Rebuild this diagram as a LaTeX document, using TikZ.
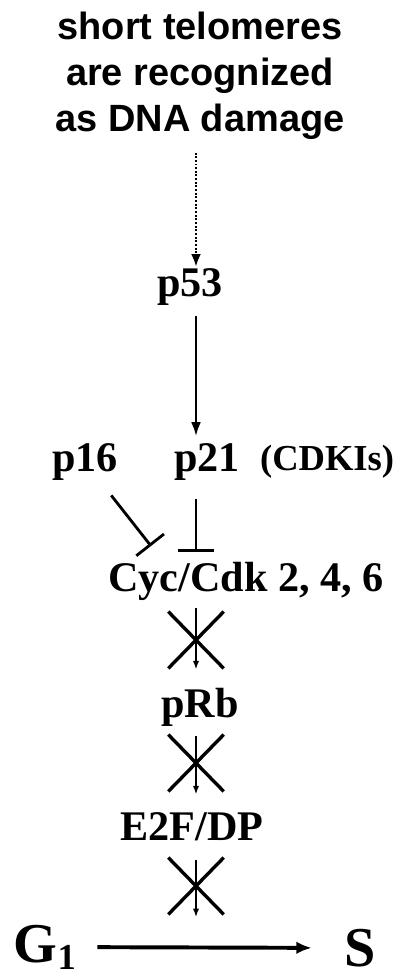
\documentclass[tikz,border=0pt]{standalone}
\usepackage{fontspec}
\setmainfont{Liberation Serif}
\newfontfamily\arialfont{Liberation Sans}
\usetikzlibrary{positioning,arrows.meta,shapes.misc}

\tikzset{
  titlebox/.style={align=center, inner sep=1pt,
    font=\arialfont\bfseries\fontsize{27}{32.6}\selectfont},
  lbl/.style={inner sep=1pt, font=\bfseries\fontsize{30}{32}\selectfont},
  small lbl/.style={inner sep=1pt, font=\bfseries\fontsize{26}{28}\selectfont},
  big lbl/.style={inner sep=1pt, font=\bfseries\fontsize{40}{42}\selectfont},
  dotarrow/.style={line width=2pt, dash pattern=on 1.4pt off 1.2pt,
    -{Latex[length=9pt,width=7pt]}},
  act/.style={line width=1.7pt, -{Latex[length=10pt,width=7pt]}},
  inhib/.style={line width=2pt, -{Bar[width=25pt,line width=2pt]}},
  thin act/.style={line width=1pt, -{Latex[length=6pt,width=4.5pt]}},
  crossx/.style={draw, cross out, line width=2.4pt, inner sep=0pt,
    minimum width=37pt, minimum height=38pt},
  phase/.style={line width=2.8pt, -{Latex[length=11pt,width=9pt]}}
}

\begin{document}
\begin{tikzpicture}[x=0.025cm,y=-0.025cm]
	\useasboundingbox (0,0) rectangle (405,977);
	%Nodes
	\node[titlebox] (dmg) at (200,76) {short telomeres\\are recognized\\as DNA damage};
	\node[lbl] (p53) at (190,287) {p53};
	\node[lbl] (p16) at (85,462) {p16};
	\node[lbl] (p21) at (207,462) {p21};
	\node[small lbl, right=12pt of p21] (cdki) {(CDKIs)};
	\node[lbl] (cyc) at (246,581) {Cyc/Cdk 2, 4, 6};
	\node[lbl] (prb) at (200,707) {pRb};
	\node[lbl] (e2f) at (192,827) {E2F/DP};
	\node[big lbl] (g1) at (45,947) {G\raisebox{-5pt}{\fontsize{26}{26}\selectfont 1}};
	\node[big lbl] (s) at (360,948) {S};
	%Blocks on the axis
	\node[crossx] (x1) at (196,640) {};
	\node[crossx] (x2) at (196,763) {};
	\node[crossx] (x3) at (196,886) {};
	\coordinate (ax) at (196,0);
	\coordinate (hit16) at (151,546);
	\coordinate (gate) at (196,917);
	%Activation
	\draw[dotarrow, shorten <=8pt] (dmg.south -| ax) -- (p53.north -| ax);
	\draw[act, shorten <=6pt, shorten >=4pt] (p53.south -| ax) -- (p21.north -| ax);
	%Inhibition
	\draw[inhib, shorten <=12pt] (p16) -- (hit16);
	\draw[inhib, shorten <=12pt, shorten >=6pt] (p21.south -| ax) -- (cyc.north -| ax);
	%Blocked steps
	\draw[thin act, shorten <=4pt, shorten >=12pt] (cyc.south -| ax) -- (prb.north -| ax);
	\draw[thin act, shorten <=6pt, shorten >=12pt] (prb.south -| ax) -- (e2f.north -| ax);
	\draw[thin act, shorten <=12pt] (e2f.south -| ax) -- (gate);
	%Transition
	\draw[phase, shorten <=14pt, shorten >=22pt] (g1) -- (s);
\end{tikzpicture}
\end{document}
